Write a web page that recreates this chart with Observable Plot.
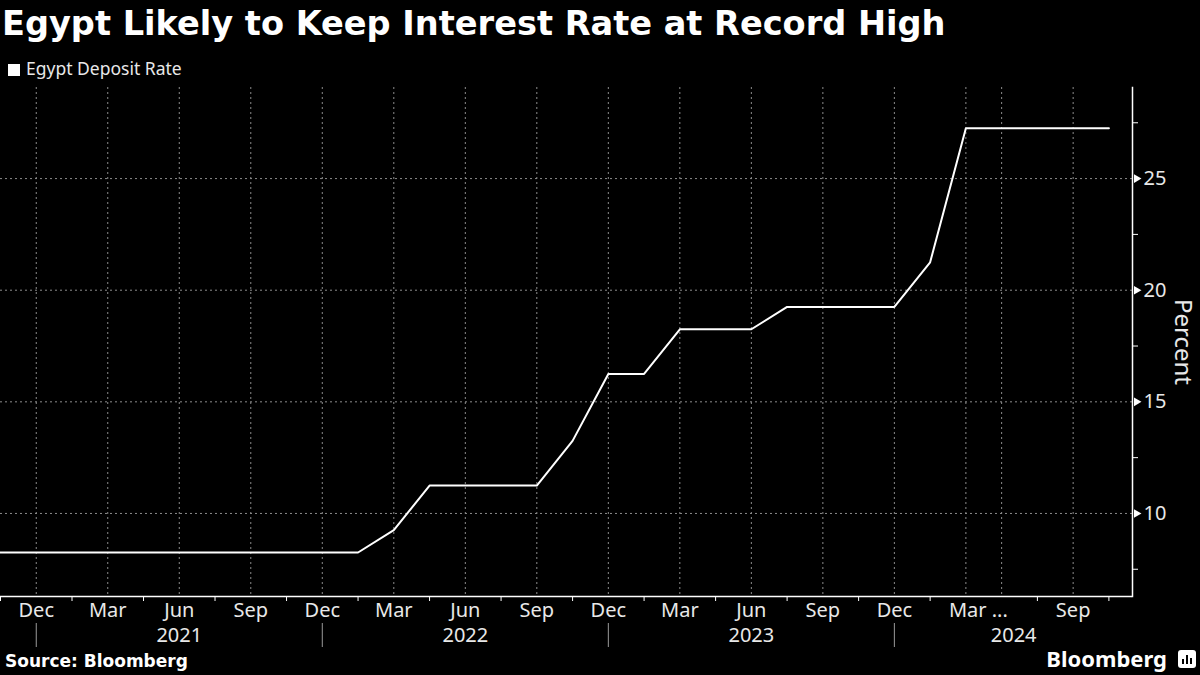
<!DOCTYPE html>
<html><head><meta charset="utf-8">
<script src="https://cdn.jsdelivr.net/npm/d3@7"></script>
<script src="https://cdn.jsdelivr.net/npm/@observablehq/plot@0.6"></script>
<style>
html,body{margin:0;padding:0;background:#000;}
#root{position:relative;width:1200px;height:675px;background:#000;overflow:hidden;font-family:"Noto Sans",sans-serif;color:#fff;}
#title{position:absolute;left:2px;top:7px;font-family:"DejaVu Sans",sans-serif;font-size:33.6px;font-weight:700;line-height:34px;white-space:nowrap;color:#fff;}
#legend{position:absolute;left:8px;top:60px;font-size:17.5px;line-height:17.5px;color:#e8e8e8;white-space:nowrap;}
#legend .sw{display:inline-block;width:12px;height:12px;background:#fff;margin-right:6px;vertical-align:-1px;}
#chart{position:absolute;left:0;top:80px;}
#source{position:absolute;left:5px;top:653px;font-family:"DejaVu Sans",sans-serif;font-size:17px;line-height:17px;font-weight:700;color:#fff;}
#logo{position:absolute;right:33px;top:647px;font-size:22px;line-height:22px;font-weight:700;color:#fff;}
#icon{position:absolute;left:1178px;top:650px;width:18px;height:18px;background:#fff;border-radius:3px;}
#icon i{position:absolute;bottom:4px;width:2px;background:#000;}
</style></head>
<body><div id="root">
<div id="title">Egypt Likely to Keep Interest Rate at Record High</div>
<div id="legend"><span class="sw"></span>Egypt Deposit Rate</div>
<div id="chart"></div>
<div id="source">Source: Bloomberg</div>
<div id="logo">Bloomberg</div>
<div id="icon"><i style="left:4px;height:5px"></i><i style="left:8px;height:9px"></i><i style="left:12px;height:6px"></i></div>
</div>
<script>
// Central Bank of Egypt MPC meeting dates and overnight deposit rate (%)
const dates = ["2020-11-12","2020-12-24","2021-02-04","2021-03-18","2021-04-29","2021-06-17","2021-08-05","2021-09-16","2021-10-28","2021-12-16","2022-02-03","2022-03-21","2022-05-19","2022-06-23","2022-08-18","2022-09-22","2022-10-27","2022-12-22","2023-02-02","2023-03-30","2023-05-18","2023-06-22","2023-08-03","2023-09-21","2023-11-02","2023-12-21","2024-02-01","2024-03-06","2024-05-23","2024-07-18","2024-09-05","2024-10-17"];
const rates = [8.25,8.25,8.25,8.25,8.25,8.25,8.25,8.25,8.25,8.25,8.25,9.25,11.25,11.25,11.25,11.25,13.25,16.25,16.25,18.25,18.25,18.25,19.25,19.25,19.25,19.25,21.25,27.25,27.25,27.25,27.25,27.25];
const gridDates = ["2020-12-24","2021-03-18","2021-06-17","2021-09-16","2021-12-16","2022-03-21","2022-06-23","2022-09-22","2022-12-22","2023-03-30","2023-06-22","2023-09-21","2023-12-21","2024-03-06","2024-05-23","2024-09-05"];
const monthLabelDates = ["2020-12-24","2021-03-18","2021-06-17","2021-09-16","2021-12-16","2022-03-21","2022-06-23","2022-09-22","2022-12-22","2023-03-30","2023-06-22","2023-09-21","2023-12-21","2024-09-05"];
const monthLabels = ["Dec","Mar","Jun","Sep","Dec","Mar","Jun","Sep","Dec","Mar","Jun","Sep","Dec","Sep"];
const truncLabelDates = ["2024-03-06"];
const truncLabels = ["Mar ..."];
const tickDates = ["2020-11-12","2021-02-04","2021-04-29","2021-08-05","2021-10-28","2022-02-03","2022-05-19","2022-08-18","2022-10-27","2023-02-02","2023-05-18","2023-08-03","2023-11-02","2024-02-01","2024-07-18","2024-10-17"];
const yearBounds = ["2020-12-24","2021-12-16","2022-12-22","2023-12-21"];
const yearLabelDates = ["2021-06-17","2022-06-23","2023-06-22"];
const yearLabels = ["2021","2022","2023"];
const lastYearLabelDates = ["2024-05-23"];
const lastYearLabels = ["2024"];
const yTicks = [10,15,20,25];
const yMinor = [7.5,12.5,17.5,22.5,27.5];
const yDomain = [6.28,29.08];

const data = dates.map((d,i) => ({date: d, rate: rates[i]}));
const gridStyle = {stroke:"#8c8c8c", strokeOpacity:1, strokeDasharray:"2,3", strokeWidth:1};
const labelColor = "#e8e8e8";

const chart = Plot.plot({
  width: 1200, height: 580,
  marginTop: 7, marginBottom: 64, marginLeft: 0, marginRight: 68,
  style: {background:"transparent", color:labelColor, fontFamily:"'Noto Sans', sans-serif", fontSize:"20px", overflow:"visible"},
  x: {type:"point", domain: dates, padding: 0.33, align: 0, round: false, axis: null},
  y: {domain: yDomain, axis: null},
  marks: [
    Plot.gridY(yTicks, gridStyle),
    Plot.gridX(gridDates, gridStyle),
    Plot.ruleY([yDomain[0]], {stroke:"#fff", strokeWidth:1.5}),
    Plot.frame({anchor:"right", stroke:"#fff", strokeWidth:1.5}),
    Plot.ruleX(tickDates, {stroke:"#fff", insetTop:509, insetBottom:-5}),
    Plot.ruleX(yearBounds, {stroke:"#9a9a9a", insetTop:536, insetBottom:-51}),
    Plot.text(monthLabelDates, {x: d => d, text: (d,i) => monthLabels[i], frameAnchor:"bottom", lineAnchor:"middle", textAnchor:"middle", dy:14, fill:labelColor, fontSize:20}),
    Plot.text(truncLabelDates, {x: d => d, text: (d,i) => truncLabels[i], frameAnchor:"bottom", lineAnchor:"middle", textAnchor:"start", dx:-17, dy:14, fill:labelColor, fontSize:20}),
    Plot.text(yearLabelDates, {x: d => d, text: (d,i) => yearLabels[i], frameAnchor:"bottom", lineAnchor:"middle", textAnchor:"middle", dy:39, fill:labelColor, fontSize:20}),
    Plot.text(lastYearLabelDates, {x: d => d, text: (d,i) => lastYearLabels[i], frameAnchor:"bottom", lineAnchor:"middle", textAnchor:"middle", dx:12, dy:39, fill:labelColor, fontSize:20}),
    Plot.line(data, {x:"date", y:"rate", stroke:"#fff", strokeWidth:2}),
    Plot.axisY(yTicks, {anchor:"right", tickSize:0, tickPadding:11, label:null, fontSize:20, fill:labelColor}),
    Plot.axisY(yMinor, {anchor:"right", tickSize:5, tickFormat:() => "", label:null, stroke:"#fff"}),
    Plot.dot(yTicks, {y: d => d, frameAnchor:"right", symbol:"triangle", rotate:90, r:3.2, dx:4, fill:"#fff", stroke:null}),
    Plot.text(["Percent"], {text: d => d, frameAnchor:"right", textAnchor:"middle", lineAnchor:"middle", rotate:90, dx:50, fontSize:24, fill:labelColor})
  ]
});
document.getElementById("chart").appendChild(chart);
</script>
</body></html>
